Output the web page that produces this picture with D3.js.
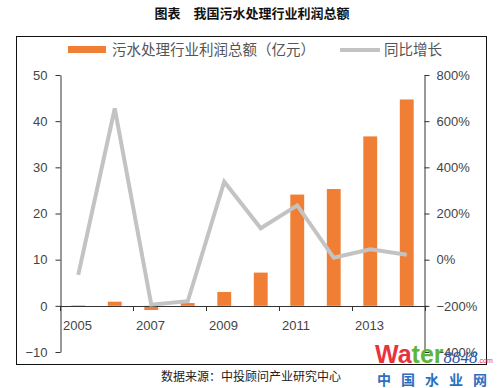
<!DOCTYPE html>
<html>
<head>
<meta charset="utf-8">
<script src="https://cdn.jsdelivr.net/npm/d3@7"></script>
<style>
  body { margin: 0; background: #fff; }
  svg text { font-family: "Liberation Sans", "Noto Sans CJK SC", sans-serif; }
</style>
</head>
<body>
<div id="chart"></div>
<script>
// data
var years = ["2005","2006","2007","2008","2009","2010","2011","2012","2013","2014"];
var profit = [0.1, 0.9, -0.9, 0.6, 3.0, 7.2, 24.1, 25.3, 36.7, 44.7];   // 亿元
var growth = [-66, 655, -195, -180, 338, 136, 235, 8, 45, 21];           // %
var leftTicks = [-10, 0, 10, 20, 30, 40, 50];
var rightTicks = [-400, -200, 0, 200, 400, 600, 800];
var xLabelYears = ["2005","2007","2009","2011","2013"];

var W = 504, H = 388;
var svg = d3.select("#chart").append("svg").attr("width", W).attr("height", H);

// title
svg.append("text")
    .attr("x", 252).attr("y", 18)
    .attr("text-anchor", "middle")
    .style("font-family", "'Noto Sans CJK SC', sans-serif")
    .style("font-weight", "bold").style("font-size", "13px").style("fill", "#111")
    .text("图表　我国污水处理行业利润总额");

// frame
svg.append("rect")
    .attr("x", 16.5).attr("y", 36.5).attr("width", 470).attr("height", 328)
    .style("fill", "none").style("stroke", "#111").style("stroke-width", 1);

var x = d3.scaleBand().domain(years).range([60, 425]).paddingInner(0.62).paddingOuter(0.31);
var yL = d3.scaleLinear().domain([-10, 50]).range([352, 75]);
var yR = d3.scaleLinear().domain([-400, 800]).range([352, 75]);

var axisColor = "#333", labelColor = "#444";

// left axis
var gl = svg.append("g").attr("transform", "translate(60.5,0)")
    .call(d3.axisLeft(yL).tickValues(leftTicks).tickSize(5).tickSizeOuter(0)
        .tickFormat(function(d){ return d < 0 ? "\u2212" + Math.abs(d) : d; }));
// right axis
var gr = svg.append("g").attr("transform", "translate(424.5,0)")
    .call(d3.axisRight(yR).tickValues(rightTicks).tickSize(5).tickSizeOuter(0)
        .tickFormat(function(d){ return (d < 0 ? "\u2212" + Math.abs(d) : d) + "%"; }));
[gl, gr].forEach(function(g){
    g.select(".domain").style("stroke", axisColor);
    g.selectAll(".tick line").style("stroke", axisColor);
    g.selectAll(".tick text").style("fill", labelColor).style("font-size", "13px")
        .style("font-family", "'Liberation Sans', Arial, sans-serif");
});
gl.selectAll(".tick text").attr("x", -13);
gr.selectAll(".tick text").attr("x", 12);

// bars
svg.append("g").selectAll("rect").data(years).enter().append("rect")
    .attr("x", function(d){ return x(d); })
    .attr("width", x.bandwidth())
    .attr("y", function(d, i){ return yL(Math.max(0, profit[i])); })
    .attr("height", function(d, i){ return Math.abs(yL(profit[i]) - yL(0)); })
    .style("fill", "#f07f35");

// x axis along zero
var step = x.step(), off = (step - x.bandwidth()) / 2;
svg.append("line")
    .attr("x1", 60).attr("x2", 428)
    .attr("y1", Math.round(yL(0)) + 0.5).attr("y2", Math.round(yL(0)) + 0.5)
    .style("stroke", axisColor);
var tickX = xLabelYears.map(function(y){ return x(y) - off; }).concat([x(years[years.length-1]) - off + step]);
svg.append("g").selectAll("line").data(tickX).enter().append("line")
    .attr("x1", function(d){ return Math.round(d) + 0.5; })
    .attr("x2", function(d){ return Math.round(d) + 0.5; })
    .attr("y1", Math.round(yL(0))).attr("y2", Math.round(yL(0)) + 5)
    .style("stroke", axisColor);
svg.append("g").selectAll("text").data(xLabelYears).enter().append("text")
    .attr("x", function(d){ return x(d) - off + 3; })
    .attr("y", 330)
    .style("font-size", "13px").style("fill", labelColor)
    .text(function(d){ return d; });

// growth line
var line = d3.line()
    .x(function(d, i){ return x(years[i]) + x.bandwidth() / 2; })
    .y(function(d){ return yR(d); });
svg.append("path").datum(growth)
    .attr("d", line)
    .style("fill", "none").style("stroke", "#c3c3c3").style("stroke-width", 4)
    .style("stroke-linejoin", "miter");

// legend
svg.append("rect").attr("x", 68).attr("y", 46).attr("width", 38).attr("height", 7).style("fill", "#f07f35");
svg.append("text").attr("x", 112).attr("y", 55)
    .style("font-size", "14.5px").style("fill", "#555")
    .style("font-family", "'Noto Sans CJK SC', sans-serif")
    .text("污水处理行业利润总额（亿元）");
svg.append("rect").attr("x", 340).attr("y", 48).attr("width", 40).attr("height", 4).style("fill", "#c3c3c3");
svg.append("text").attr("x", 384).attr("y", 55)
    .style("font-size", "14.5px").style("fill", "#555")
    .style("font-family", "'Noto Sans CJK SC', sans-serif")
    .text("同比增长");

// source
svg.append("text").attr("x", 251).attr("y", 381)
    .attr("text-anchor", "middle")
    .style("font-size", "12px").style("fill", "#222")
    .style("font-family", "'Noto Sans CJK SC', sans-serif")
    .text("数据来源：中投顾问产业研究中心");

// watermark
var wm = svg.append("g");
var t = wm.append("text").attr("x", 375).attr("y", 363)
    .style("font-family", "'Liberation Sans', Arial, sans-serif").style("font-weight", "bold").style("font-size", "25px");
t.append("tspan").style("fill", "#e8323c").text("Wa");
t.append("tspan").style("fill", "#5fb43a").text("ter");
t.append("tspan").style("fill", "#2a55a8").style("font-style", "italic").style("font-weight", "normal")
    .style("font-family", "'Liberation Serif', serif").style("font-size", "17px").text("8848");
t.append("tspan").style("fill", "#e8323c").style("font-size", "7px").style("font-weight", "normal").text(".com");
wm.append("text").attr("x", 377).attr("y", 385)
    .style("font-family", "'Noto Sans CJK SC', sans-serif").style("font-weight", "bold")
    .style("font-size", "14px").style("fill", "#2a6fc0").style("letter-spacing", "10px")
    .text("中国水业网");
</script>
</body>
</html>
